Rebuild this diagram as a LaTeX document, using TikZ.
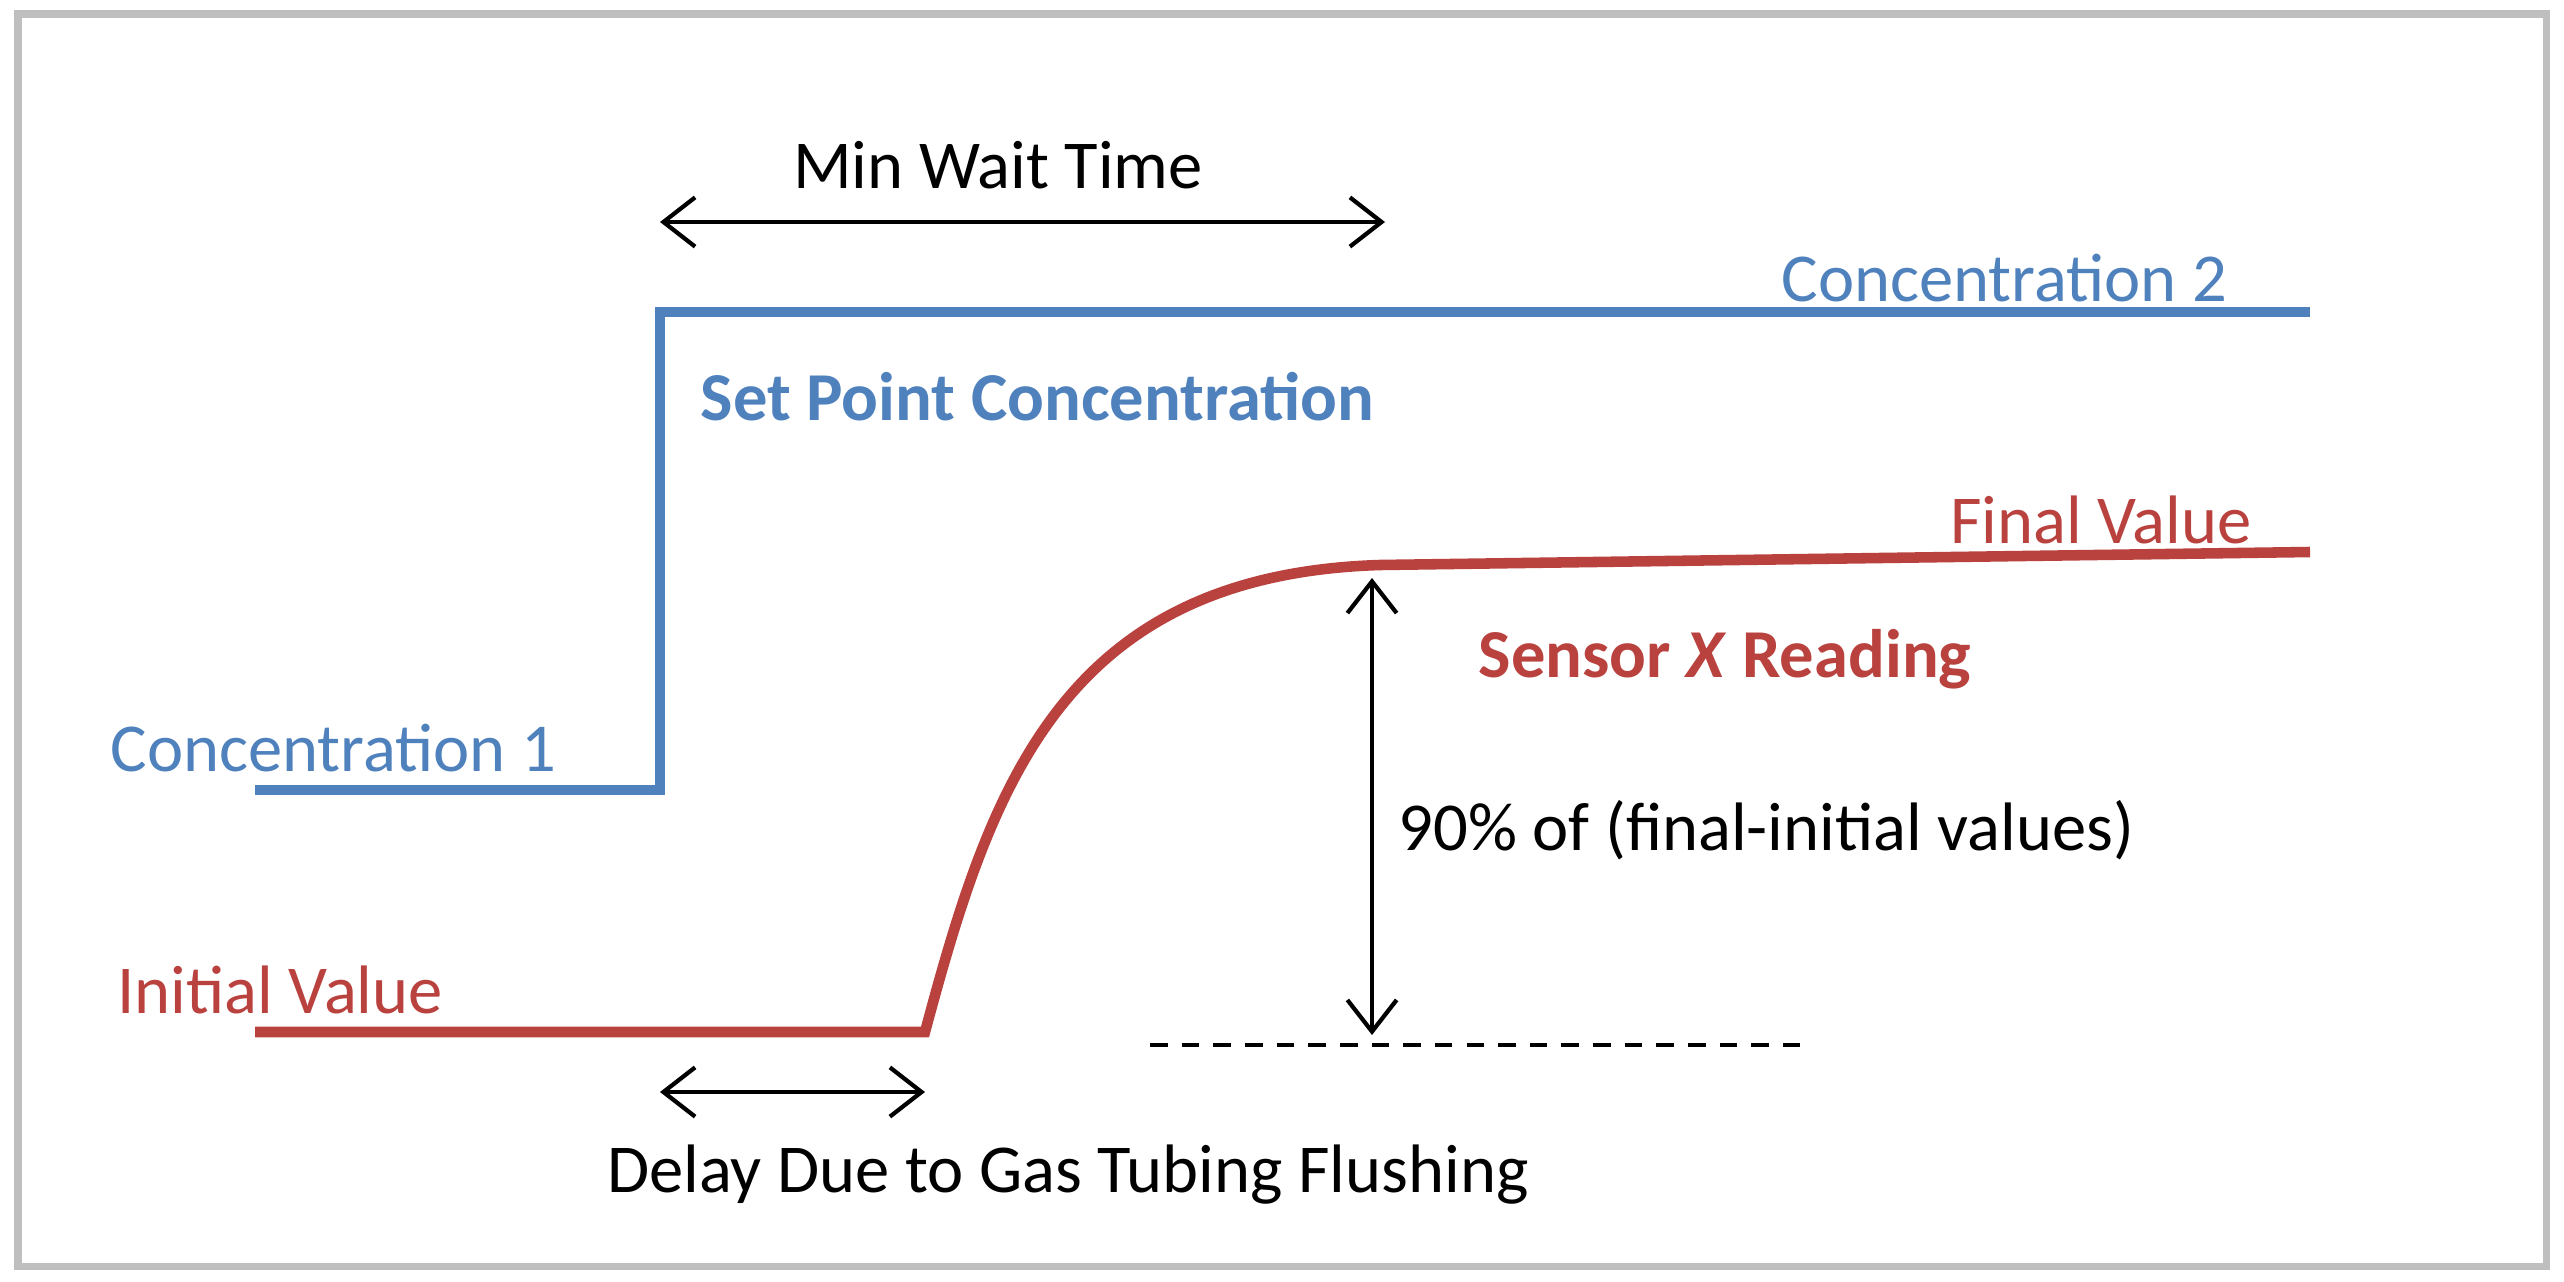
\documentclass[tikz,border=0pt]{standalone}
\usepackage{fontspec}
\setmainfont{Carlito}
\usetikzlibrary{arrows.meta}
\definecolor{cblue}{RGB}{79,129,189}
\definecolor{cred}{RGB}{185,65,62}
\begin{document}
\begin{tikzpicture}[x=0.01cm,y=-0.01cm,
  lbl/.style={inner sep=0pt,font=\fontsize{19.5}{22}\selectfont},
  dim/.style={<->,>={Straight Barb[length=9pt,width=14pt]},line width=1.2pt}]
\useasboundingbox (0,0) rectangle (2564,1282);
\fill[white] (0,0) rectangle (2564,1282);
\draw[gray!50,line width=2pt] (18,14) rectangle (2546,1266);
% blue
\draw[cblue,line width=3pt] (255,790) -- (660,790) -- (660,312) -- (2310,312);
% red
\draw[cred,line width=3pt] (255,1032) -- (925,1032) .. controls (990,790) and (1060,575) .. (1380,565) -- (2310,552);
% dashed
\coordinate (d1) at (1150,1045); \coordinate (d2) at (1800,1045);
\draw[line width=1.2pt,dash pattern=on 5pt off 4pt] (d1) -- (d2);
% arrows
\coordinate (a1) at (660,222); \coordinate (a2) at (1385,222);
\draw[dim] (a1) -- (a2);
\coordinate (v1) at (1372,578); \coordinate (v2) at (1372,1035);
\draw[dim] (v1) -- (v2);
\coordinate (h1) at (660,1092); \coordinate (h2) at (925,1092);
\draw[dim] (h1) -- (h2);
% labels
\node[lbl] (mw) at (998,165) {Min Wait Time};
\node[lbl,text=cblue,anchor=east] (c2) at (2228,278) {Concentration 2};
\node[lbl,text=cblue,anchor=west,font=\fontsize{19.5}{22}\selectfont\bfseries] (sp) at (700,397) {Set Point Concentration};
\node[lbl,text=cred,anchor=east] (fv) at (2252,520) {Final Value};
\node[lbl,text=cred,anchor=west,font=\fontsize{19.5}{22}\selectfont\bfseries] (sx) at (1478,659) {Sensor \textit{X} Reading};
\node[lbl,text=cblue,anchor=west] (c1) at (110,748) {Concentration 1};
\node[lbl,text=cred,anchor=west] (iv) at (117,990) {Initial Value};
\node[lbl,anchor=west] (nf) at (1398,830) {90\% of (final-initial values)};
\node[lbl] (dl) at (1068,1175) {Delay Due to Gas Tubing Flushing};
\end{tikzpicture}
\end{document}
